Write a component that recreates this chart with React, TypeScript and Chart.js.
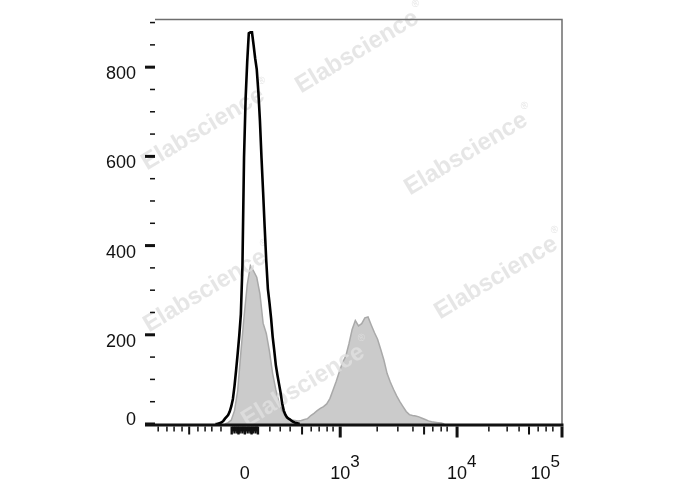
import React, { useEffect, useRef } from "react";
import { Chart, registerables } from "chart.js";

Chart.register(...registerables);

// ---- data (histogram counts per display channel) ----
const CHANNEL_MAX = 1024;
const COUNT_MAX = 908;

const BLACK_START = 152;
const BLACK_STEP = 4;
const BLACK_COUNTS = [
  0, 0, 1, 2, 4, 7, 12, 16, 20, 28, 40, 56, 85, 120, 158, 198, 246, 355, 598, 730,
  812, 876, 878, 878, 850, 820, 795, 745, 680, 596, 520, 440, 365, 303, 272, 238, 196, 165, 132, 110,
  90, 70, 46, 30, 21, 15, 12, 10, 7, 5, 3, 2, 1, 0,
];

const GRAY_START = 176;
const GRAY_STEP = 8;
const GRAY_COUNTS = [
  0, 3, 9, 30, 75, 160, 240, 312, 355, 343, 329, 292, 226, 203, 163, 113, 77, 48, 30, 18,
  12, 9, 8, 7, 8, 10, 12, 19, 24, 30, 35, 39, 45, 57, 76, 96, 118, 138, 152, 180,
  212, 232, 220, 225, 238, 240, 222, 205, 190, 167, 143, 113, 94, 78, 63, 50, 39, 28, 21, 19,
  18, 16, 13, 10, 7, 5, 4, 3, 2, 0,
];

// ---- axes ----
const Y_MAJOR_TICKS = [0, 200, 400, 600, 800];
const Y_MINOR_TICKS = [50, 100, 150, 250, 300, 350, 450, 500, 550, 650, 700, 750, 850, 900];

const X_LABEL_CHANNELS = [226, 466, 760, 1024];
const X_LABEL_BASES = ["0", "10", "10", "10"];
const X_LABEL_EXPONENTS = ["", "3", "4", "5"];
const X_MAJOR_TICK_CHANNELS = [466, 760, 1024];
const X_MID_TICK_CHANNELS = [86, 370, 677, 941];
const X_MINOR_TICK_CHANNELS = [
  8, 30, 48, 68, 108, 126, 143, 166, 289, 315, 340, 393, 413, 433, 448, 559, 611, 649, 699, 720,
  735, 840, 886, 916, 964, 984, 1001,
];
const X_ZERO_CLUSTER_CHANNELS = [
  193, 197, 200, 203, 207, 210, 213, 217, 220, 223, 226, 230, 233, 236, 240, 243, 246, 250, 253, 256, 259,
];

const WATERMARK_TEXT = "Elabscience";
const WATERMARK_SPOTS: [number, number][] = [
  [357, 52],
  [203, 129],
  [466, 154],
  [205, 291],
  [496, 278],
  [303, 386],
];

const FONT = 'Arial, "Liberation Sans", Helvetica, sans-serif';

function toPoints(start: number, step: number, counts: number[]) {
  return counts.map((c, i) => ({ x: start + i * step, y: c }));
}

function drawWatermark(ctx: CanvasRenderingContext2D, cx: number, cy: number) {
  ctx.save();
  ctx.translate(cx, cy);
  ctx.rotate((-31 * Math.PI) / 180);
  ctx.font = `bold 24px ${FONT}`;
  ctx.fillStyle = "rgba(224,224,224,0.8)";
  ctx.textAlign = "center";
  ctx.textBaseline = "middle";
  ctx.fillText(WATERMARK_TEXT, 0, 0);
  const w = ctx.measureText(WATERMARK_TEXT).width;
  ctx.font = `10px ${FONT}`;
  ctx.textAlign = "left";
  ctx.fillText("\u00AE", w / 2 + 2, -11);
  ctx.restore();
}

const decorPlugin = {
  id: "flowDecor",
  afterDatasetDraw(chart: any, args: any) {
    if (args.index !== 1) return;
    const ctx = chart.ctx as CanvasRenderingContext2D;
    for (const [x, y] of WATERMARK_SPOTS) drawWatermark(ctx, x, y);
  },
  afterDraw(chart: any) {
    const ctx = chart.ctx as CanvasRenderingContext2D;
    const { left, right, top, bottom } = chart.chartArea;
    const xs = chart.scales.x;
    const ys = chart.scales.y;
    ctx.save();
    // frame top / right
    ctx.strokeStyle = "#6e6e6e";
    ctx.lineWidth = 1.5;
    ctx.beginPath();
    ctx.moveTo(left, top + 0.5);
    ctx.lineTo(right, top + 0.5);
    ctx.lineTo(right, bottom);
    ctx.stroke();

    ctx.fillStyle = "#111";
    // x axis line
    ctx.fillRect(left - 10, bottom - 0.5, right - left + 11.5, 3);
    const tickTop = bottom + 2.5;
    for (const c of X_MAJOR_TICK_CHANNELS) {
      const x = xs.getPixelForValue(c);
      ctx.fillRect(x - 1.5, tickTop, 3, 11);
    }
    for (const c of X_MID_TICK_CHANNELS) {
      const x = xs.getPixelForValue(c);
      ctx.fillRect(x - 1, tickTop, 2, 8);
    }
    for (const c of X_MINOR_TICK_CHANNELS) {
      const x = xs.getPixelForValue(c);
      ctx.fillRect(x - 0.75, tickTop, 1.5, 5);
    }
    X_ZERO_CLUSTER_CHANNELS.forEach((c, i) => {
      const x = xs.getPixelForValue(c);
      const len = i % 5 === 0 ? 8 : i % 2 === 0 ? 7 : 5;
      ctx.fillRect(x - 1.2, tickTop, 2.4, len);
    });

    // y ticks
    for (const v of Y_MAJOR_TICKS) {
      const y = ys.getPixelForValue(v);
      ctx.fillRect(left - 10, y - 1.5, 10, 3);
    }
    for (const v of Y_MINOR_TICKS) {
      const y = ys.getPixelForValue(v);
      ctx.fillRect(left - 5, y - 0.75, 5, 1.5);
    }

    // y labels
    ctx.font = `18px ${FONT}`;
    ctx.textAlign = "right";
    ctx.textBaseline = "alphabetic";
    for (const v of Y_MAJOR_TICKS) {
      const y = ys.getPixelForValue(v);
      const base = v === 0 ? bottom + 1 : y + 12;
      ctx.fillText(String(v), left - 19, base);
    }

    // x labels
    const baseY = 479;
    X_LABEL_CHANNELS.forEach((c, i) => {
      const x = xs.getPixelForValue(c);
      const b = X_LABEL_BASES[i];
      const e = X_LABEL_EXPONENTS[i];
      ctx.font = `18px ${FONT}`;
      const bw = ctx.measureText(b).width;
      ctx.font = `17px ${FONT}`;
      const ew = e ? ctx.measureText(e).width : 0;
      let startX = x - bw / 2;
      if (startX + bw + ew > right) startX = right - 2 - bw - ew;
      ctx.textAlign = "left";
      ctx.font = `18px ${FONT}`;
      ctx.fillText(b, startX, baseY);
      if (e) {
        ctx.font = `17px ${FONT}`;
        ctx.fillText(e, startX + bw, baseY - 12);
      }
    });
    ctx.restore();
  },
};

export default function App() {
  const canvasRef = useRef<HTMLCanvasElement | null>(null);

  useEffect(() => {
    const canvas = canvasRef.current;
    if (!canvas) return;
    const chart = new Chart(canvas, {
      type: "line",
      data: {
        datasets: [
          {
            label: "control",
            data: toPoints(BLACK_START, BLACK_STEP, BLACK_COUNTS),
            borderColor: "#000000",
            borderWidth: 2.6,
            pointRadius: 0,
            fill: false,
            tension: 0,
          },
          {
            label: "stained",
            data: toPoints(GRAY_START, GRAY_STEP, GRAY_COUNTS),
            borderColor: "#a9a9a9",
            backgroundColor: "#cbcbcb",
            borderWidth: 1.5,
            pointRadius: 0,
            fill: "origin",
            tension: 0,
          },
        ],
      },
      options: {
        responsive: false,
        animation: false,
        devicePixelRatio: 1,
        layout: { padding: { left: 155, top: 19, right: 126, bottom: 66 } },
        plugins: { legend: { display: false }, tooltip: { enabled: false } },
        scales: {
          x: { type: "linear", min: 0, max: CHANNEL_MAX, display: false },
          y: { type: "linear", min: 0, max: COUNT_MAX, display: false },
        },
      },
      plugins: [decorPlugin],
    });
    return () => chart.destroy();
  }, []);

  return (
    <div style={{ position: "absolute", left: 0, top: 0, width: 688, height: 490, background: "#fff" }}>
      <canvas ref={canvasRef} width={688} height={490} style={{ display: "block" }} />
    </div>
  );
}
